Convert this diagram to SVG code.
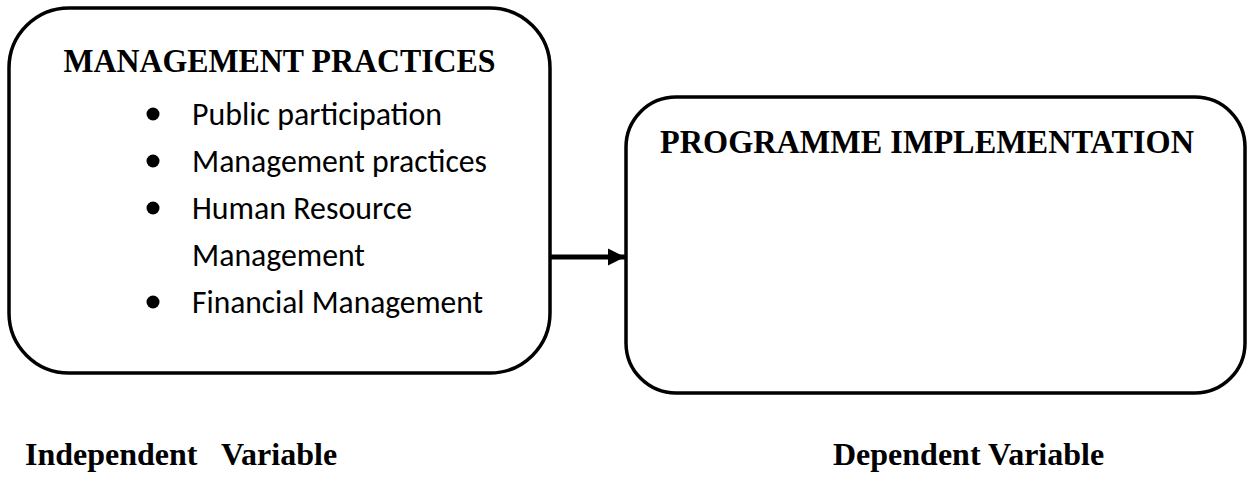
<svg xmlns="http://www.w3.org/2000/svg" width="1252" height="481" viewBox="0 0 1252 481">
<style>
.box{fill:#fff;stroke:#000;stroke-width:3.5}
.title{font-family:"Liberation Serif","Times New Roman",serif;font-weight:bold;font-size:33px;fill:#000}
.item{font-family:Carlito,Lato,"Open Sans",sans-serif;font-size:33px;fill:#000}
.lbl{font-family:"Liberation Serif","Times New Roman",serif;font-weight:bold;font-size:32px;fill:#000;white-space:pre}
</style>
<defs>
<marker id="ah" viewBox="0 0 10 10" refX="10" refY="5" markerWidth="3.4" markerHeight="3.6" orient="auto" markerUnits="strokeWidth">
<path d="M0,0 L10,5 L0,10 Z" fill="#000"/>
</marker>
</defs>
<rect width="1252" height="481" fill="#fff"/>
<g id="connectors">
<line x1="550" y1="257" x2="625" y2="257" stroke="#000" stroke-width="5" marker-end="url(#ah)"/>
</g>
<g id="management-practices">
<rect class="box" x="9" y="8" width="541" height="365" rx="60" ry="60"/>
<text class="title" x="279.5" y="72" text-anchor="middle" textLength="432" lengthAdjust="spacingAndGlyphs">MANAGEMENT PRACTICES</text>
<circle cx="153" cy="114" r="6.5"/>
<text class="item" x="192" y="125" textLength="250" lengthAdjust="spacingAndGlyphs">Public participation</text>
<circle cx="153" cy="161" r="6.5"/>
<text class="item" x="192" y="172" textLength="295" lengthAdjust="spacingAndGlyphs">Management practices</text>
<circle cx="153" cy="208" r="6.5"/>
<text class="item" x="192" y="219" textLength="220" lengthAdjust="spacingAndGlyphs">Human Resource</text>
<text class="item" x="192" y="266" textLength="173" lengthAdjust="spacingAndGlyphs">Management</text>
<circle cx="153" cy="302" r="6.5"/>
<text class="item" x="192" y="313" textLength="291" lengthAdjust="spacingAndGlyphs">Financial Management</text>
</g>
<g id="programme-implementation">
<rect class="box" x="626" y="97" width="619" height="296" rx="50" ry="50"/>
<text class="title" x="927" y="153" text-anchor="middle" textLength="534" lengthAdjust="spacingAndGlyphs">PROGRAMME IMPLEMENTATION</text>
</g>
<g id="labels">
<text class="lbl" x="25" y="465" xml:space="preserve">Independent   Variable</text>
<text class="lbl" x="833" y="465">Dependent Variable</text>
</g>
</svg>
